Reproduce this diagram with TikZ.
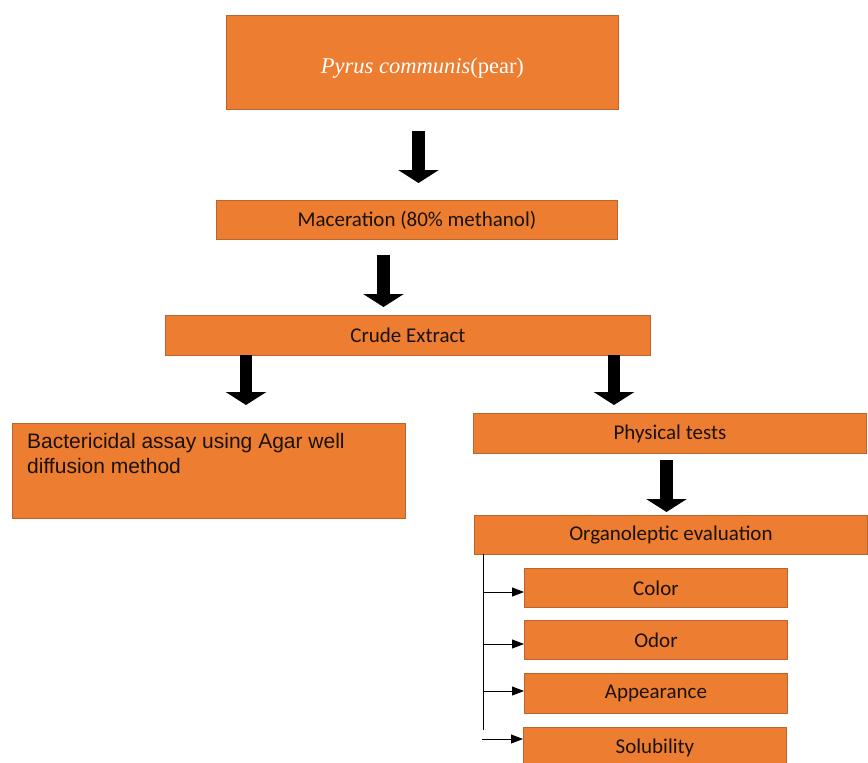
\documentclass[tikz,border=0pt]{standalone}
\usepackage{fontspec}
\setmainfont{Carlito}
\newfontfamily\serifft{Liberation Serif}
\newfontfamily\arialft{Liberation Sans}
\usetikzlibrary{arrows.meta}
\definecolor{orfill}{HTML}{ED7D31}
\definecolor{ordraw}{HTML}{B8662C}
\definecolor{txt}{HTML}{1A1208}
\begin{document}
\begin{tikzpicture}[x=1pt,y=-1pt,
  box/.style={draw=ordraw, fill=orfill, line width=0.9pt, inner sep=0pt, anchor=north west,
    text=txt, font=\fontsize{21}{25}\selectfont},
  bigarrow/.style={line width=12.5pt, -{Triangle[width=40pt,length=13pt]}},
  smallarrow/.style={line width=0.9pt, -{Triangle[width=9pt,length=12pt]}}]
\useasboundingbox (0,0) rectangle (868,763);

% boxes
\node[box, minimum width=392, minimum height=94] (pyrus) at (226,15)
  {\raisebox{-11pt}[0pt][0pt]{\serifft\fontsize{22.5}{25}\selectfont\color{white}\textit{Pyrus communis}(pear)}};
\node[box, minimum width=401, minimum height=39] (mac) at (216,200) {Maceration (80\% methanol)};
\node[box, minimum width=485, minimum height=40] (crude) at (165,315) {Crude Extract};
\node[box, minimum width=393, minimum height=95] (bact) at (12,423) {};
\node[anchor=north west, inner sep=0pt, align=left, text=txt,
  font=\arialft\fontsize{21}{25}\selectfont] (bacttext) at (27,433)
  {Bactericidal assay using Agar well\\diffusion method};
\node[box, minimum width=393, minimum height=40] (phys) at (473,413) {Physical tests};
\node[box, minimum width=393, minimum height=39] (organo) at (474,515) {Organoleptic evaluation};
\node[box, minimum width=263, minimum height=39] (colr) at (524,568) {Color};
\node[box, minimum width=263, minimum height=39] (odor) at (524,620) {Odor};
\node[box, minimum width=263, minimum height=40] (appear) at (524,673) {Appearance};
\node[box, minimum width=263, minimum height=40] (solub) at (523,727) {Solubility};

% big arrows
\coordinate (a1s) at (418.5,131); \coordinate (a1e) at (418.5,183);
\coordinate (a2s) at (383.5,255); \coordinate (a2e) at (383.5,307);
\coordinate (a3s) at (246,355);   \coordinate (a3e) at (246,405);
\coordinate (a4s) at (614,355);   \coordinate (a4e) at (614,405);
\coordinate (a5s) at (666.5,460); \coordinate (a5e) at (666.5,512);
\draw[bigarrow] (a1s) -- (a1e);
\draw[bigarrow] (a2s) -- (a2e);
\draw[bigarrow] (a3s) -- (a3e);
\draw[bigarrow] (a4s) -- (a4e);
\draw[bigarrow] (a5s) -- (a5e);

% bracket line and small arrows
\coordinate (vtop) at (483,554);
\coordinate (vbot) at (483,730);
\draw[line width=0.9pt] (vtop) -- (vbot);
\coordinate (b1) at (483,592);
\coordinate (b2) at (483,644);
\coordinate (b3) at (483,691);
\coordinate (b4) at (482,739);
\draw[smallarrow] (b1) -- (colr.west |- b1);
\draw[smallarrow] (b2) -- (odor.west |- b2);
\draw[smallarrow] (b3) -- (appear.west |- b3);
\draw[smallarrow] (b4) -- (solub.west |- b4);
\end{tikzpicture}
\end{document}
